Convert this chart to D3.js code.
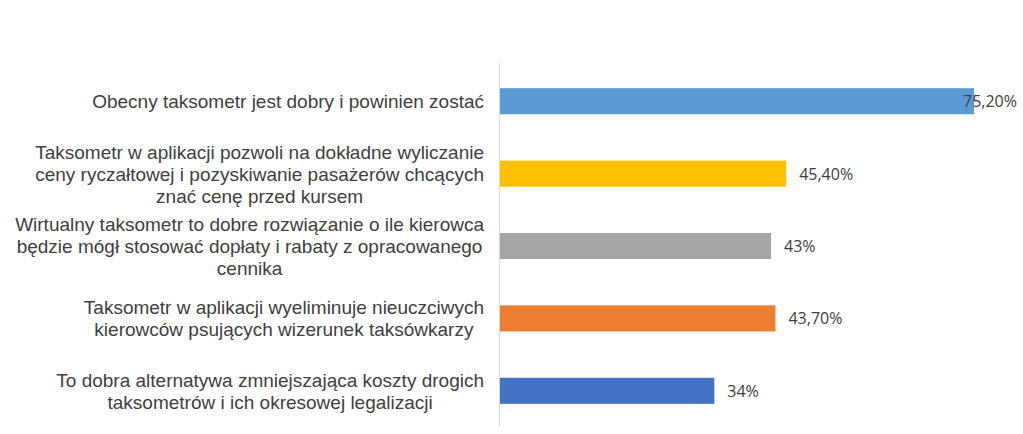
<!DOCTYPE html>
<html><head><meta charset="utf-8">
<script src="https://cdn.jsdelivr.net/npm/d3@7"></script>
<style>body{margin:0;background:#fff}</style></head>
<body><svg id="c" width="1023" height="434"></svg>
<script>
const categories = [
 ["Obecny taksometr jest dobry i powinien zostać"],
 ["Taksometr w aplikacji pozwoli na dokładne wyliczanie","ceny ryczałtowej i pozyskiwanie pasażerów chcących","znać cenę przed kursem"],
 ["Wirtualny taksometr to dobre rozwiązanie o ile kierowca","będzie mógł stosować dopłaty i rabaty z opracowanego","cennika"],
 ["Taksometr w aplikacji wyeliminuje nieuczciwych","kierowców psujących wizerunek taksówkarzy"],
 ["To dobra alternatywa zmniejszająca koszty drogich","taksometrów i ich okresowej legalizacji"]
];
const values = [75.2, 45.4, 43, 43.7, 34];
const valueLabels = ["75,20%","45,40%","43%","43,70%","34%"];
const colors = ["#5B9BD5","#FFC000","#A5A5A5","#ED7D31","#4472C4"];

const svg = d3.select("#c");
const x = d3.scaleLinear().domain([0,75.2]).range([500,974]);
const y = d3.scaleBand().domain(d3.range(5)).range([65,427]).paddingInner(0.64).paddingOuter(0.32);

svg.append("line").attr("x1",499.5).attr("x2",499.5).attr("y1",63).attr("y2",427).attr("stroke","#d9d9d9");

svg.selectAll("rect.b").data(values).join("rect")
 .attr("x",x(0)).attr("y",(d,i)=>y(i)).attr("width",d=>x(d)-x(0)).attr("height",y.bandwidth())
 .attr("fill",(d,i)=>colors[i]);

svg.selectAll("text.v").data(values).join("text")
 .attr("x",(d,i)=> i===0 ? x(d)-11 : x(d)+13)
 .attr("y",(d,i)=>y(i)+y.bandwidth()/2+6)
 .attr("font-family","'Open Sans', sans-serif").attr("font-size",16).attr("fill","#404040")
 .text((d,i)=>valueLabels[i]);

categories.forEach((lines,i)=>{
  const cy = y(i)+y.bandwidth()/2;
  const lh = 22;
  const t = svg.append("text").attr("text-anchor","middle")
    .attr("font-family","'Liberation Sans', Arial, sans-serif").attr("font-size",19).attr("fill","#404040");
  const spans = lines.map((l,j)=> t.append("tspan").attr("y",cy+7+(j-(lines.length-1)/2)*lh).text(l));
  const w = d3.max(spans, s=>s.node().getComputedTextLength());
  spans.forEach(s=>s.attr("x",484-w/2));
});
</script></body></html>
